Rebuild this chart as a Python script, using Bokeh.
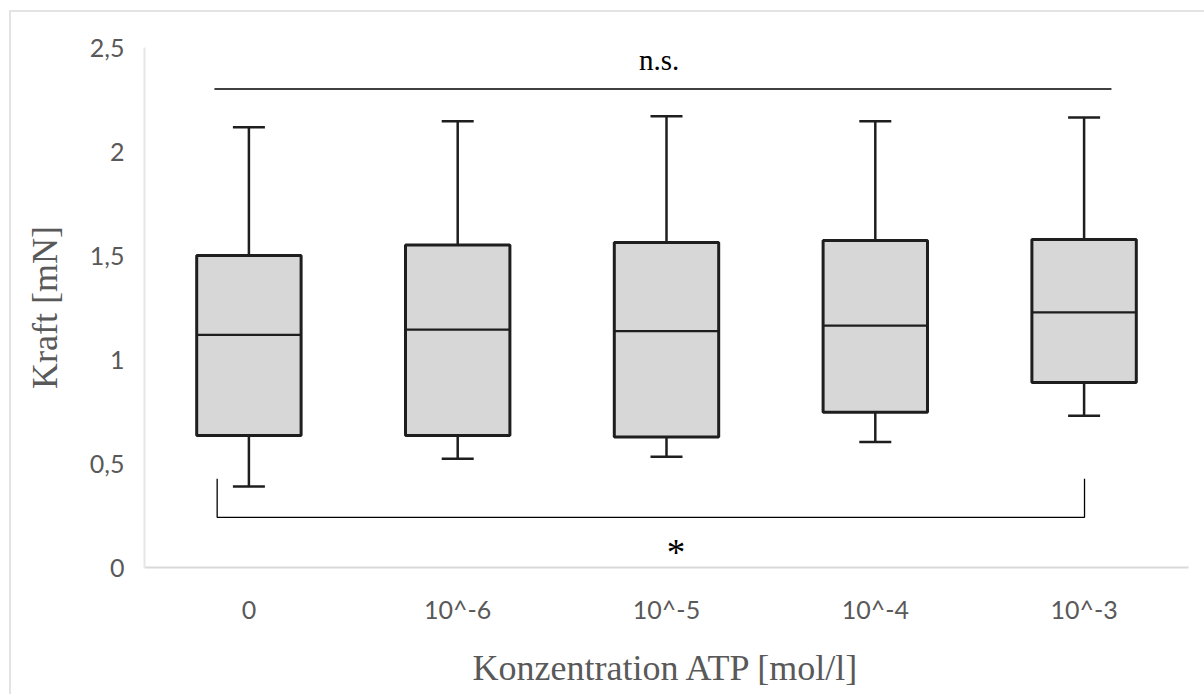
from bokeh.plotting import figure
from bokeh.models import FactorRange, Range1d, FixedTicker, CustomJSTickFormatter, Label
from bokeh.layouts import column
from bokeh.embed import file_html
from bokeh.resources import INLINE

# ---- data ----
categories = ["0", "10^-6", "10^-5", "10^-4", "10^-3"]
whisker_low = [0.39, 0.523, 0.533, 0.603, 0.730]
q1 = [0.635, 0.635, 0.627, 0.746, 0.889]
median = [1.118, 1.144, 1.136, 1.163, 1.227]
q3 = [1.500, 1.551, 1.563, 1.572, 1.577]
whisker_high = [2.117, 2.146, 2.169, 2.146, 2.163]
y_ticks = [0, 0.5, 1, 1.5, 2, 2.5]
ns_level = 2.30
bracket_low = 0.241
bracket_high = 0.427
ns_text = "n.s."
star_text = "*"

GRAY_TXT = "#595959"
AXIS_GRAY = "#d9d9d9"
INK = "#1e1e1e"

p = figure(
    width=1193, height=682,
    x_range=FactorRange(*categories),
    y_range=Range1d(0, 2.5),
    output_backend="svg", toolbar_location=None,
    min_border_left=133, min_border_right=16, min_border_top=35, min_border_bottom=127,
)
p.outline_line_color = None
p.xgrid.grid_line_color = None
p.ygrid.grid_line_color = None

# whiskers (drawn first so boxes cover them)
p.segment(x0=categories, y0=q3, x1=categories, y1=whisker_high, line_color=INK, line_width=2.5)
p.segment(x0=categories, y0=q1, x1=categories, y1=whisker_low, line_color=INK, line_width=2.5)
p.dash(x=categories, y=whisker_high, size=32, line_color=INK, line_width=2.5)
p.dash(x=categories, y=whisker_low, size=32, line_color=INK, line_width=2.5)

# boxes
p.vbar(x=categories, bottom=q1, top=q3, width=0.5, fill_color="#d7d7d7",
       line_color=INK, line_width=3)
# medians
p.vbar(x=categories, bottom=median, top=median, width=0.5, fill_alpha=0,
       line_color=INK, line_width=2.2)

# significance annotations (synthetic categorical coordinates)
first_c = 0.5
last_c = len(categories) - 0.5
p.line(x=[first_c - 0.165, last_c + 0.131], y=[ns_level, ns_level], line_color="black", line_width=1.5)
p.line(x=[first_c - 0.152, first_c - 0.152, last_c + 0.002, last_c + 0.002],
       y=[bracket_high, bracket_low, bracket_low, bracket_high], line_color="black", line_width=1.3)
p.add_layout(Label(x=2.465, y=2.44, text=ns_text, text_align="center", text_baseline="middle",
                   text_font="Liberation Serif", text_font_size="29px", text_color="black"))
p.add_layout(Label(x=2.545, y=0.072, text=star_text, text_align="center", text_baseline="middle",
                   text_font="Liberation Serif", text_font_size="37px", text_color="black"))

# axes
p.yaxis.ticker = FixedTicker(ticks=y_ticks)
p.yaxis.formatter = CustomJSTickFormatter(code="return String(tick).replace('.', ',');")
for ax in (p.xaxis, p.yaxis):
    ax.axis_line_color = AXIS_GRAY
    ax.axis_line_width = 2
    ax.major_tick_line_color = None
    ax.minor_tick_line_color = None
    ax.major_tick_in = 0
    ax.major_tick_out = 0
    ax.major_label_text_font = "Lato"
    ax.major_label_text_font_size = "25px"
    ax.major_label_text_color = GRAY_TXT
    ax.axis_label_text_font = "Liberation Serif"
    ax.axis_label_text_font_size = "36px"
    ax.axis_label_text_font_style = "normal"
    ax.axis_label_text_color = GRAY_TXT
p.yaxis.axis_line_color = "#e6e6e6"
p.yaxis.major_label_standoff = 20
p.yaxis.axis_label = "Kraft [mN]"
p.yaxis.axis_label_standoff = 22
p.xaxis.major_label_standoff = 26
p.xaxis.axis_label = "Konzentration ATP [mol/l]"
p.xaxis.axis_label_standoff = 21

layout = column(p, styles={"margin-left": "9px", "margin-top": "10px",
                           "border-left": "2px solid #e3e3e3", "border-top": "2px solid #e3e3e3"})

open("out.html", "w").write(file_html(layout, INLINE))
